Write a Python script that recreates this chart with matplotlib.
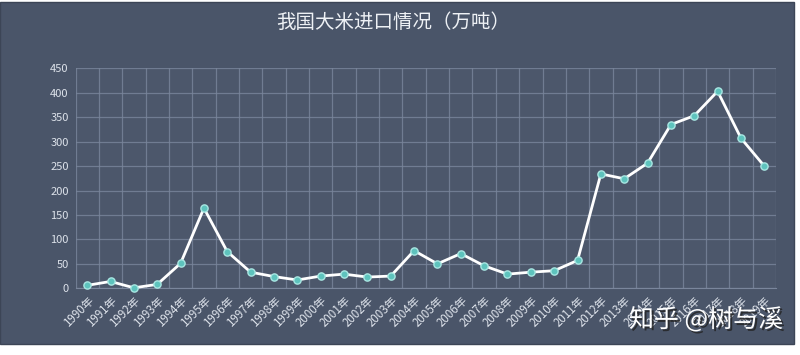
import matplotlib
matplotlib.use("Agg")
import matplotlib.pyplot as plt
import matplotlib.patheffects as pe
from matplotlib.patches import Rectangle
import numpy as np

plt.rcParams['font.family'] = ['Noto Sans CJK SC', 'DejaVu Sans']

years = [f"{y}年" for y in range(1990, 2020)]
imports = [6, 14, 1, 8, 51, 164, 75, 33, 24, 17, 25, 29, 23, 25, 77,
           50, 71, 46, 29, 33, 36, 57, 234, 224, 256, 335, 353, 403, 307, 250]
yticks = [0, 50, 100, 150, 200, 250, 300, 350, 400, 450]
title = "我国大米进口情况（万吨）"
watermark = "知乎 @树与溪"

BG = "#4a5569"
GRID = "#7a869c"
TXT = "#dde2ea"

fig = plt.figure(figsize=(8, 3.55), dpi=100, facecolor="white")
fig.patches.append(Rectangle((0, 11 / 355), 794 / 800, 342 / 355,
                             transform=fig.transFigure, facecolor=BG,
                             edgecolor="#3c4556", linewidth=1, zorder=-10))

ax = fig.add_axes([75.5 / 800, (355 - 288.3) / 355, 700.5 / 800, 220 / 355])
ax.set_zorder(2)
ax.set_facecolor("#4c576b")
x = np.arange(len(years))
ax.set_xlim(-0.5, len(years) - 0.5)
ax.set_ylim(0, 450)

for b in np.arange(-0.5, len(years), 1.0):
    ax.axvline(b, color=GRID, lw=0.9, alpha=0.8, zorder=1)
for t in yticks:
    ax.axhline(t, color=GRID, lw=0.9, alpha=0.8, zorder=1)

ax.plot(x, imports, color="white", lw=2, zorder=3,
        marker="o", markersize=5.2, markerfacecolor="#5ec3bd",
        markeredgecolor="#a8e6e2", markeredgewidth=1.0, clip_on=False)

ax.set_yticks(yticks)
ax.set_yticklabels([str(v) for v in yticks], color=TXT, fontsize=8)
ax.set_xticks(x)
ax.set_xticklabels(years, rotation=45, ha="right", va="top",
                   rotation_mode="anchor", color=TXT, fontsize=8.3)
ax.tick_params(axis="both", length=0, pad=5)
ax.tick_params(axis="x", pad=4)
for s in ax.spines.values():
    s.set_visible(False)
ax.spines["bottom"].set_visible(True)
ax.spines["bottom"].set_color(GRID)

fig.text(393 / 800, 1 - 22 / 355, title, ha="center", va="center",
         color="#eef1f5", fontsize=14)

fig.text(706 / 800, 1 - 320 / 355, watermark, ha="center", va="center",
         color="white", fontsize=18, zorder=5,
         path_effects=[pe.withSimplePatchShadow(offset=(1.5, -1.5),
                                                shadow_rgbFace="#222222",
                                                alpha=0.8)])

fig.savefig("out.png", dpi=100, facecolor="white")
